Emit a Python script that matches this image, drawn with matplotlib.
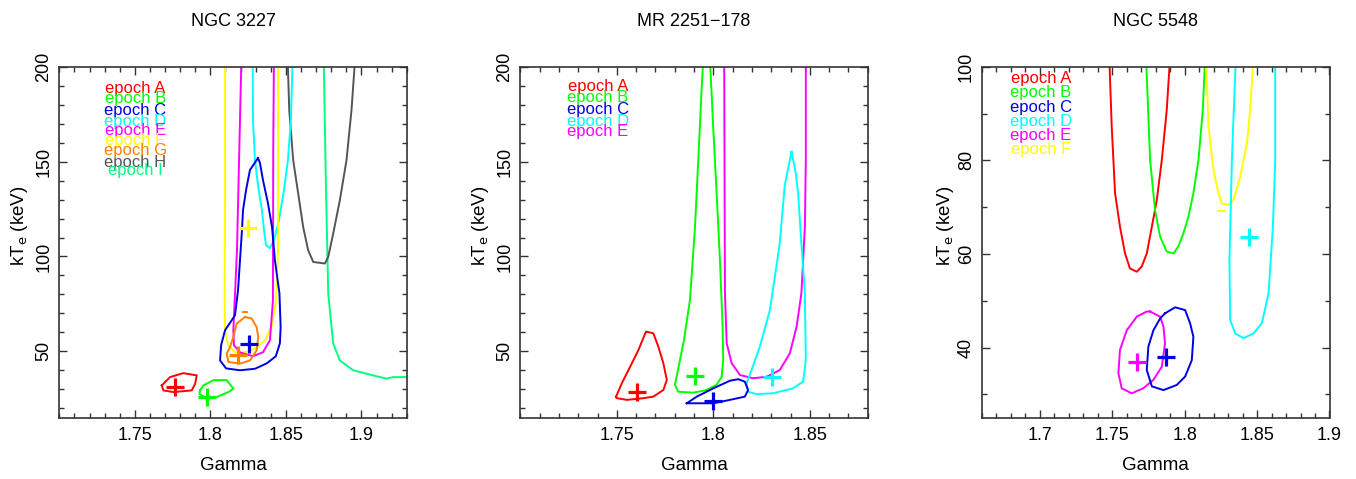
import numpy as np
from matplotlib import pyplot as plt
from matplotlib.ticker import MultipleLocator, FixedLocator, FormatStrFormatter

plt.rcParams['font.family'] = ['Liberation Sans', 'DejaVu Sans']

RED = '#ff0000'
GREEN = '#00ff00'
BLUE = '#0000e6'
CYAN = '#00ffff'
MAGENTA = '#ff00ff'
YELLOW = '#ffff00'
ORANGE = '#ff8000'
GREY = '#555555'
SPRING = '#00ff80'

# ---------------- NGC 3227 contours (Gamma, kTe) ----------------
n3227_a_gam = [1.7678, 1.7733, 1.7821, 1.7910, 1.7899, 1.7877, 1.7755, 1.7689, 1.7678]
n3227_a_kte = [32.0, 36.4, 38.5, 37.3, 32.9, 29.4, 28.5, 29.4, 32.0]
n3227_b_gam = [1.7932, 1.7953, 1.8020, 1.8108, 1.8152, 1.8119, 1.8042, 1.7976, 1.7927, 1.7932]
n3227_b_kte = [29.4, 32.0, 34.8, 34.8, 30.3, 28.5, 25.9, 25.0, 27.7, 29.4]
n3227_c_gam = [1.8315, 1.8262, 1.8236, 1.8216, 1.8209, 1.8196, 1.8183, 1.8163, 1.8097, 1.8071,
               1.8064, 1.8104, 1.8196, 1.8295, 1.8374, 1.8433, 1.8460, 1.8465, 1.8457, 1.8427,
               1.8408, 1.8381, 1.8348, 1.8328, 1.8315]
n3227_c_kte = [151.9, 145.6, 135.0, 124.4, 113.9, 98.0, 82.2, 69.0, 61.1, 53.2,
               45.2, 41.0, 40.0, 40.8, 43.7, 47.4, 54.2, 62.7, 80.6, 98.0,
               115.5, 128.1, 140.3, 149.3, 151.9]
n3227_d_gam = [1.8280, 1.8282, 1.8295, 1.8315, 1.8341, 1.8355, 1.8368, 1.8394, 1.8421, 1.8454,
               1.8487, 1.8513, 1.8533, 1.8546]
n3227_d_kte = [210, 172.0, 150.8, 137.6, 124.4, 113.9, 106.0, 104.4, 108.6, 119.2,
               135.0, 150.8, 172.0, 210]
n3227_e_gam = [1.8207, 1.8176, 1.8152, 1.8156, 1.8196, 1.8282, 1.8348, 1.8394, 1.8414, 1.8416, 1.8421]
n3227_e_kte = [210, 103.3, 61.1, 53.2, 49.4, 47.4, 49.5, 55.8, 76.9, 156.1, 210]
n3227_f_gam = [1.8097, 1.8097, 1.8094, 1.8097, 1.8117, 1.8164, 1.8230, 1.8296, 1.8362, 1.8408,
               1.8435, 1.8448, 1.8448, 1.8448]
n3227_f_kte = [210, 129.7, 76.9, 61.1, 53.2, 49.5, 49.5, 51.6, 55.8, 63.7,
               76.9, 103.3, 156.1, 210]
n3227_g_gam = [1.8229, 1.8174, 1.8152, 1.8130, 1.8108, 1.8119, 1.8196, 1.8262, 1.8306, 1.8317,
               1.8306, 1.8273, 1.8229]
n3227_g_kte = [68.1, 64.6, 57.6, 52.3, 48.8, 44.4, 43.5, 45.2, 50.5, 57.6, 62.8, 67.3, 68.1]
n3227_g2_gam = [1.8215, 1.8245]
n3227_g2_kte = [70.5, 70.5]
n3227_h_gam = [1.8509, 1.8522, 1.8548, 1.8581, 1.8614, 1.8647, 1.8681, 1.8758, 1.8780, 1.8813,
               1.8857, 1.8901, 1.8934, 1.8963]
n3227_h_kte = [210, 177.2, 150.8, 133.3, 115.6, 103.3, 97.1, 96.3, 99.8, 112.1,
               129.7, 150.8, 177.2, 210]
n3227_i_gam = [1.8749, 1.8764, 1.8780, 1.8813, 1.8857, 1.8945, 1.9077, 1.9166, 1.9209, 1.9300]
n3227_i_kte = [210, 140.0, 80.5, 54.1, 45.2, 40.0, 37.3, 35.6, 36.4, 36.4]

n3227_best_gam = [1.7766, 1.7976, 1.8256, 1.8247, 1.8185]
n3227_best_kte = [31.2, 25.9, 54.1, 114.8, 47.9]
n3227_best_col = [RED, GREEN, BLUE, YELLOW, ORANGE]

# ---------------- MR 2251-178 ----------------
mr_a_gam = [1.7496, 1.7526, 1.7569, 1.7612, 1.7651, 1.7689, 1.7715, 1.7741, 1.7759, 1.7741,
            1.7689, 1.7638, 1.7552, 1.7500, 1.7496]
mr_a_kte = [26.1, 33.2, 41.9, 50.7, 60.4, 59.5, 52.5, 43.7, 34.9, 29.6,
            26.1, 25.3, 24.4, 25.3, 26.1]
mr_b_gam = [1.7951, 1.7939, 1.7922, 1.7905, 1.7879, 1.7848, 1.7817, 1.7801, 1.7818, 1.7896,
            1.7965, 1.8017, 1.8043, 1.8051, 1.8048, 1.8034, 1.8017, 1.7999, 1.7991, 1.7979]
mr_b_kte = [210, 187.8, 150.9, 115.7, 77.2, 56.1, 40.3, 32.4, 28.7, 28.2,
            29.6, 32.4, 36.6, 45.5, 63.0, 98.2, 133.3, 168.4, 186.0, 210]
mr_c_gam = [1.7862, 1.7914, 1.8000, 1.8086, 1.8129, 1.8163, 1.8180, 1.8163, 1.8086, 1.8000, 1.7862]
mr_c_kte = [22.6, 26.1, 30.5, 34.5, 35.3, 34.0, 29.6, 26.1, 24.4, 22.6, 22.6]
mr_d_gam = [1.8405, 1.8370, 1.8344, 1.8293, 1.8241, 1.8198, 1.8172, 1.8180, 1.8224, 1.8310,
            1.8413, 1.8465, 1.8479, 1.8474, 1.8456, 1.8439, 1.8427, 1.8405]
mr_d_kte = [155.2, 137.7, 107.0, 71.8, 52.5, 40.2, 33.2, 28.7, 27.4, 27.9,
            30.5, 34.0, 45.5, 80.6, 107.0, 133.3, 143.9, 155.2]
mr_e_gam = [1.8056, 1.8060, 1.8069, 1.8095, 1.8138, 1.8206, 1.8276, 1.8344, 1.8396, 1.8431,
            1.8456, 1.8474, 1.8479, 1.8479]
mr_e_kte = [210, 80.6, 54.3, 43.7, 37.5, 35.8, 36.6, 40.1, 48.9, 62.9,
            80.6, 115.7, 150.9, 210]

mr_best_gam = [1.7603, 1.7905, 1.8000, 1.8302]
mr_best_kte = [28.4, 37.1, 24.0, 36.6]
mr_best_col = [RED, GREEN, BLUE, CYAN]

# ---------------- NGC 5548 ----------------
n5548_a_gam = [1.7479, 1.7496, 1.7519, 1.7553, 1.7588, 1.7622, 1.7669, 1.7703, 1.7738, 1.7773,
               1.7807, 1.7842, 1.7876, 1.7899]
n5548_a_kte = [102, 87.2, 73.0, 65.8, 60.1, 56.9, 56.2, 57.3, 60.1, 65.8,
               71.5, 80.1, 90.8, 102]
n5548_b_gam = [1.7733, 1.7761, 1.7795, 1.7830, 1.7876, 1.7922, 1.7956, 1.7991, 1.8026, 1.8060,
               1.8095, 1.8125, 1.8141]
n5548_b_kte = [102, 80.1, 69.4, 63.7, 60.5, 60.1, 61.6, 64.4, 68.0, 73.0, 80.1, 90.8, 102]
n5548_c_gam = [1.7864, 1.7934, 1.8003, 1.8037, 1.8060, 1.8049, 1.8003, 1.7945, 1.7853, 1.7773,
               1.7738, 1.7749, 1.7784, 1.7830, 1.7864]
n5548_c_kte = [47.3, 48.6, 48.0, 45.2, 42.3, 37.3, 33.8, 32.0, 30.9, 31.7,
               35.2, 40.2, 43.7, 46.2, 47.3]
n5548_d_gam = [1.8353, 1.8326, 1.8309, 1.8314, 1.8349, 1.8406, 1.8475, 1.8533, 1.8579, 1.8609,
               1.8625, 1.8625]
n5548_d_kte = [102, 80.1, 58.7, 45.9, 43.0, 42.0, 43.0, 45.2, 51.6, 65.8, 80.1, 102]
n5548_e_gam = [1.7761, 1.7830, 1.7853, 1.7864, 1.7842, 1.7784, 1.7714, 1.7634, 1.7565, 1.7542,
               1.7553, 1.7600, 1.7669, 1.7738, 1.7761]
n5548_e_kte = [47.7, 46.6, 44.5, 40.9, 35.9, 33.1, 31.3, 30.2, 31.3, 34.5,
               39.5, 43.7, 46.6, 47.7, 47.7]
n5548_f_gam = [1.8148, 1.8164, 1.8199, 1.8233, 1.8257, 1.8302, 1.8337, 1.8383, 1.8430, 1.8452, 1.8475]
n5548_f_kte = [102, 87.2, 77.9, 73.0, 70.8, 70.5, 71.5, 76.5, 83.7, 90.8, 102]
n5548_f2_gam = [1.8230, 1.8275]
n5548_f2_kte = [69.2, 69.2]

n5548_best_gam = [1.8441, 1.7673, 1.7871]
n5548_best_kte = [63.7, 37.0, 38.0]
n5548_best_col = [CYAN, MAGENTA, BLUE]

titles = ['NGC 3227', 'MR 2251\u2212178', 'NGC 5548']
epochs_3227 = ['A', 'B', 'C', 'D', 'E', 'F', 'G', 'H', 'I']
epochs_mr = ['A', 'B', 'C', 'D', 'E']
epochs_5548 = ['A', 'B', 'C', 'D', 'E', 'F']


def setup_axes(ax, xlim, ylim, xticks, yticks):
    ax.set_xlim(*xlim)
    ax.set_ylim(*ylim)
    ax.xaxis.set_major_locator(FixedLocator(xticks))
    ax.yaxis.set_major_locator(FixedLocator(yticks))
    ax.xaxis.set_minor_locator(MultipleLocator(0.01))
    ax.yaxis.set_minor_locator(MultipleLocator(10))
    ax.xaxis.set_major_formatter(FormatStrFormatter('%g'))
    ax.yaxis.set_major_formatter(FormatStrFormatter('%g'))
    ax.tick_params(which='both', direction='in', top=True, right=True,
                   color='#333333', width=1.0, labelsize=13)
    ax.tick_params(which='major', length=6)
    ax.tick_params(which='minor', length=3.5)
    ax.tick_params(axis='x', pad=7)
    ax.tick_params(axis='y', labelrotation=90, pad=5)
    for lab in ax.get_yticklabels():
        lab.set_va('center')
    for s in ax.spines.values():
        s.set_color('#333333')
        s.set_linewidth(1.2)


def legend_text(ax, x, ys, epochs, colors):
    for e, y, c in zip(epochs, ys, colors):
        ax.text(x, (417.7 - y) / 350.9, 'epoch ' + e, color=c, fontsize=12,
                ha='center', va='center', transform=ax.transAxes)


fig = plt.figure(figsize=(13.56, 4.79), dpi=100)
lefts = [59.3 / 1356, 520.3 / 1356, 982 / 1356]
w = 347.5 / 1356
b = 1 - 417.7 / 479
h = 350.9 / 479
axes = [fig.add_axes([l, b, w, h]) for l in lefts]
lw = 1.4

# NGC 3227
ax = axes[0]
ax.plot(n3227_a_gam, n3227_a_kte, color=RED, lw=lw)
ax.plot(n3227_b_gam, n3227_b_kte, color=GREEN, lw=lw)
ax.plot(n3227_i_gam, n3227_i_kte, color=SPRING, lw=lw)
ax.plot(n3227_h_gam, n3227_h_kte, color=GREY, lw=lw)
ax.plot(n3227_d_gam, n3227_d_kte, color=CYAN, lw=lw)
ax.plot(n3227_f_gam, n3227_f_kte, color=YELLOW, lw=lw)
ax.plot(n3227_e_gam, n3227_e_kte, color=MAGENTA, lw=lw)
ax.plot(n3227_c_gam, n3227_c_kte, color=BLUE, lw=lw)
ax.plot(n3227_g_gam, n3227_g_kte, color=ORANGE, lw=lw)
ax.plot(n3227_g2_gam, n3227_g2_kte, color=ORANGE, lw=lw)
for g, k, c in zip(n3227_best_gam, n3227_best_kte, n3227_best_col):
    ax.plot(g, k, '+', color=c, ms=13, mew=2.3)
setup_axes(ax, (1.70, 1.93), (15, 200), [1.75, 1.8, 1.85, 1.9], [50, 100, 150, 200])
legend_text(ax, 0.219, [88.3, 98.3, 110, 121.7, 130, 140, 150.7, 162.7, 170], epochs_3227,
            [RED, GREEN, BLUE, CYAN, MAGENTA, YELLOW, ORANGE, GREY, SPRING])

# MR 2251-178
ax = axes[1]
ax.plot(mr_a_gam, mr_a_kte, color=RED, lw=lw)
ax.plot(mr_b_gam, mr_b_kte, color=GREEN, lw=lw)
ax.plot(mr_e_gam, mr_e_kte, color=MAGENTA, lw=lw)
ax.plot(mr_d_gam, mr_d_kte, color=CYAN, lw=lw)
ax.plot(mr_c_gam, mr_c_kte, color=BLUE, lw=lw)
for g, k, c in zip(mr_best_gam, mr_best_kte, mr_best_col):
    ax.plot(g, k, '+', color=c, ms=13, mew=2.3)
setup_axes(ax, (1.70, 1.88), (15, 200), [1.75, 1.8, 1.85], [50, 100, 150, 200])
legend_text(ax, 0.223, [86.7, 97.3, 109, 121, 131.7], epochs_mr,
            [RED, GREEN, BLUE, CYAN, MAGENTA])

# NGC 5548
ax = axes[2]
ax.plot(n5548_a_gam, n5548_a_kte, color=RED, lw=lw)
ax.plot(n5548_b_gam, n5548_b_kte, color=GREEN, lw=lw)
ax.plot(n5548_f_gam, n5548_f_kte, color=YELLOW, lw=lw)
ax.plot(n5548_f2_gam, n5548_f2_kte, color=YELLOW, lw=lw)
ax.plot(n5548_d_gam, n5548_d_kte, color=CYAN, lw=lw)
ax.plot(n5548_e_gam, n5548_e_kte, color=MAGENTA, lw=lw)
ax.plot(n5548_c_gam, n5548_c_kte, color=BLUE, lw=lw)
for g, k, c in zip(n5548_best_gam, n5548_best_kte, n5548_best_col):
    ax.plot(g, k, '+', color=c, ms=13, mew=2.3)
setup_axes(ax, (1.66, 1.90), (25, 100), [1.7, 1.75, 1.8, 1.85, 1.9], [40, 60, 80, 100])
legend_text(ax, 0.170, [78, 92, 107, 121, 135, 149], epochs_5548,
            [RED, GREEN, BLUE, CYAN, MAGENTA, YELLOW])

# titles and axis labels
ylab_x = [20, 481, 945]
for ax, t, yx in zip(axes, titles, ylab_x):
    pos = ax.get_position()
    cx = (pos.x0 + pos.x1) / 2
    fig.text(cx, 1 - 22 / 479, t, ha='center', va='center', fontsize=13)
    fig.text(cx, 1 - 466 / 479, 'Gamma', ha='center', va='center', fontsize=13.5)
    fig.text(yx / 1356, 1 - 226 / 479, r'kT$_\mathrm{e}$ (keV)', rotation=90,
             ha='center', va='center', fontsize=13.5)

fig.savefig('out.png', dpi=100)
